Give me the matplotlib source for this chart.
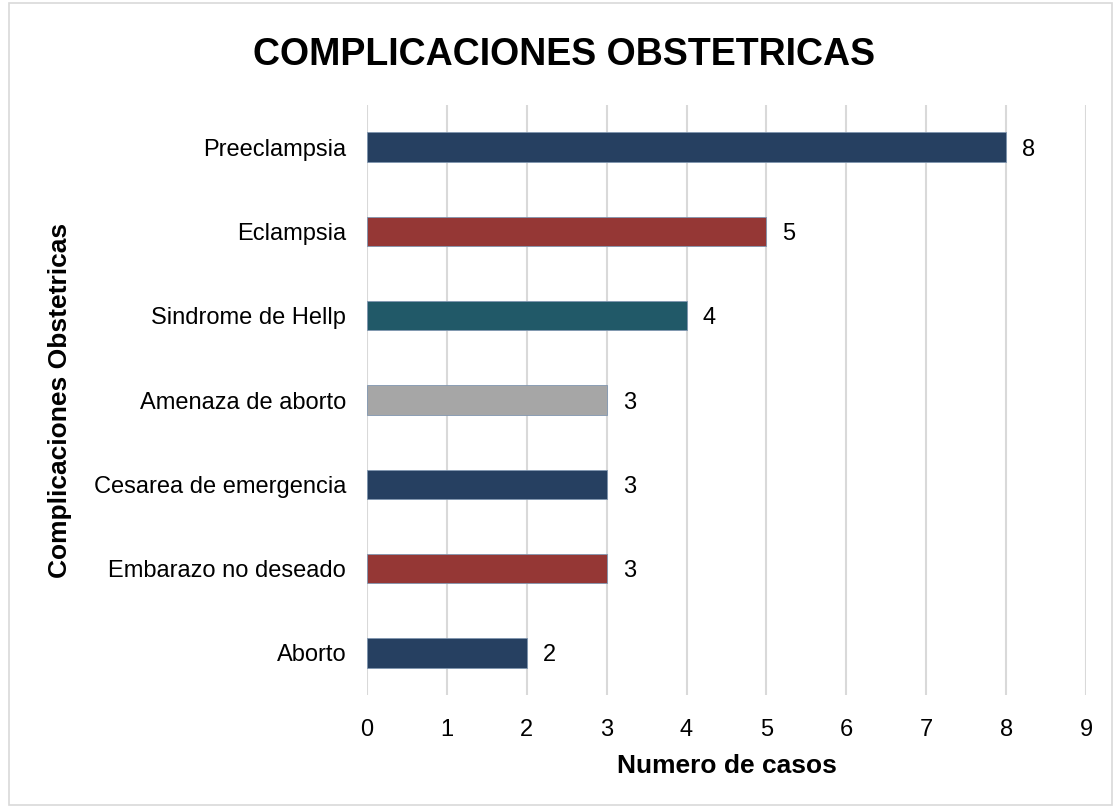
import matplotlib
matplotlib.use('Agg')
import matplotlib.pyplot as plt
from matplotlib.patches import Rectangle

plt.rcParams['font.family'] = ['Liberation Sans', 'DejaVu Sans']

categorias = ['Preeclampsia', 'Eclampsia', 'Sindrome de Hellp', 'Amenaza de aborto',
              'Cesarea de emergencia', 'Embarazo no deseado', 'Aborto']
casos = [8, 5, 4, 3, 3, 3, 2]
colores = ['#264061', '#953735', '#215968', '#A6A6A6', '#264061', '#953735', '#264061']

fig = plt.figure(figsize=(11.2, 8.08), dpi=100)
ax = fig.add_axes([0.3277, 0.1399, 0.6419, 0.7301])

pos = list(range(len(categorias)))[::-1]
ax.barh(pos, casos, height=0.35, color=colores, edgecolor='#8096b0', linewidth=0.6, zorder=3)

# etiquetas de datos
for p, v in zip(pos, casos):
    ax.text(v + 0.2, p, str(v), va='center_baseline', ha='left', fontsize=17)

ax.set_xlim(0, 9)
ax.set_ylim(-0.5, 6.5)
ax.set_xticks(range(10))
ax.set_yticks(pos)
ax.set_yticklabels(categorias)
ax.tick_params(axis='both', length=0, labelsize=17)
ax.tick_params(axis='y', pad=15)
ax.tick_params(axis='x', pad=17)
ax.grid(axis='x', color='#D9D9D9', linewidth=1.5, zorder=0)
for s in ax.spines.values():
    s.set_visible(False)

ax.set_xlabel('Numero de casos', fontsize=19, fontweight='bold', labelpad=10)
fig.text(0.054, 0.504, 'Complicaciones Obstetricas', rotation=90, fontsize=19,
         fontweight='bold', ha='center', va='center')
fig.text(0.504, 0.932, 'COMPLICACIONES OBSTETRICAS', fontsize=27, fontweight='bold',
         ha='center', va='center')

# borde del grafico
fig.patches.append(Rectangle((0.008, 0.004), 0.985, 0.992, transform=fig.transFigure,
                             fill=False, edgecolor='#D9D9D9', linewidth=1.2))

fig.savefig('out.png', dpi=100)
